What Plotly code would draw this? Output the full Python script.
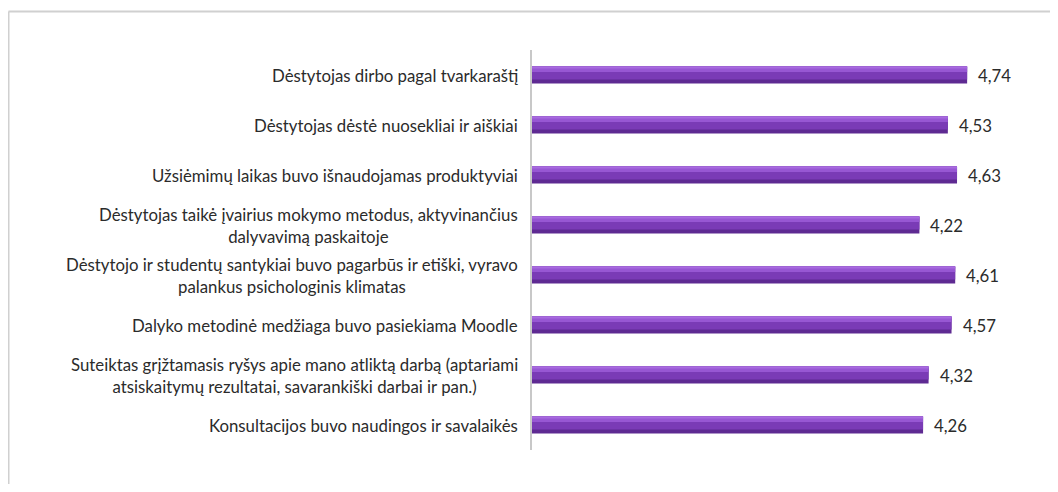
import plotly.graph_objects as go

categories = [
    "Dėstytojas dirbo pagal tvarkaraštį",
    "Dėstytojas dėstė nuosekliai ir aiškiai",
    "Užsiėmimų laikas buvo išnaudojamas produktyviai",
    "Dėstytojas taikė įvairius mokymo metodus, aktyvinančius<br>dalyvavimą paskaitoje",
    "Dėstytojo ir studentų santykiai buvo pagarbūs ir etiški, vyravo<br>palankus psichologinis klimatas",
    "Dalyko metodinė medžiaga buvo pasiekiama Moodle",
    "Suteiktas grįžtamasis ryšys apie mano atliktą darbą (aptariami<br>atsiskaitymų rezultatai, savarankiški darbai ir pan.)",
    "Konsultacijos buvo naudingos ir savalaikės",
]
values = [4.74, 4.53, 4.63, 4.22, 4.61, 4.57, 4.32, 4.26]

FONT = "Lato"
idx = list(range(len(categories)))

# page body has an 8px margin on every side; keep the figure inside the window
OFF = 8
W, H = 1058 - 2 * OFF, 492 - 2 * OFF
L, T = 532 - OFF, 50 - OFF
PW, PH = 459, 400

fig = go.Figure()
layers = [
    (-0.17, 0.34, "#5e2a92"),
    (-0.17, 0.26, "#7a3bb6"),
    (-0.17, 0.11, "#9757d3"),
    (-0.17, 0.04, "#a86ae0"),
]
for off, w, col in layers:
    fig.add_trace(go.Bar(
        x=values, y=idx, orientation="h",
        width=[w] * len(values), offset=[off] * len(values),
        marker=dict(color=col, line=dict(width=0)),
        hoverinfo="skip", showlegend=False,
    ))

annotations = []
for i, (c, v) in enumerate(zip(categories, values)):
    annotations.append(dict(
        x=0, xref="paper", y=i, yref="y", text=c, showarrow=False,
        xanchor="right", yanchor="middle", align="center", xshift=-12,
        font=dict(family=FONT, size=16.8, color="#2b2b2b"),
    ))
    annotations.append(dict(
        x=v, xref="x", y=i, yref="y", text=f"{v:.2f}".replace(".", ","),
        showarrow=False, xanchor="left", yanchor="middle", xshift=9,
        font=dict(family=FONT, size=16.8, color="#2b2b2b"),
    ))

bx = (8.5 - OFF - L) / PW
by = (T + PH - (11.5 - OFF)) / PH

fig.update_layout(
    width=W, height=H,
    margin=dict(l=L, r=W - L - PW, t=T, b=H - T - PH),
    paper_bgcolor="white", plot_bgcolor="white",
    barmode="overlay",
    xaxis=dict(range=[0, 5], visible=False, showgrid=False, zeroline=False),
    yaxis=dict(range=[7.5, -0.5], showticklabels=False, showgrid=False,
               zeroline=False, showline=True, linecolor="#c8c8c8", linewidth=2,
               ticks=""),
    annotations=annotations,
    shapes=[
        dict(type="line", xref="paper", yref="paper",
             x0=bx, x1=1.3, y0=by, y1=by,
             line=dict(color="#d0d0d0", width=2)),
        dict(type="line", xref="paper", yref="paper",
             x0=bx, x1=bx, y0=by, y1=-0.3,
             line=dict(color="#d0d0d0", width=2)),
    ],
)

fig.write_html("out.html")
